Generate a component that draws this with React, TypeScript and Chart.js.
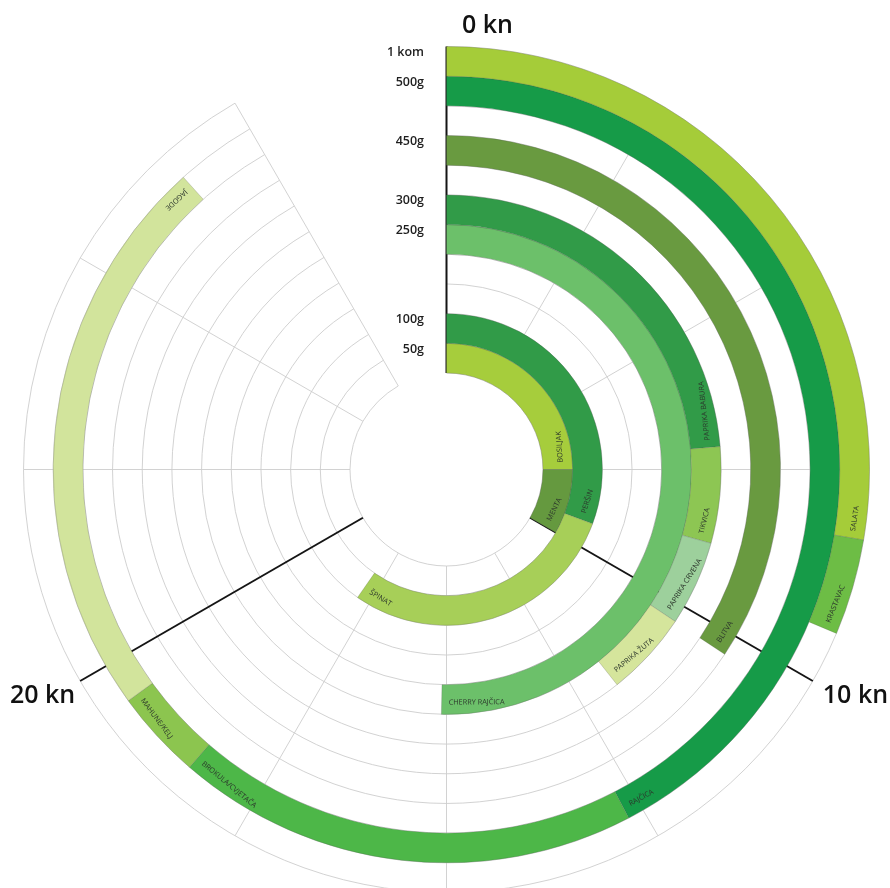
import React, { useEffect, useRef } from 'react';
import { Chart, registerables } from 'chart.js';

Chart.register(...registerables);

// ---- axis ----
const TOTAL_KN = 30; // full circle
const tickValues = [0, 10, 20];
const tickLabels = ['0 kn', '10 kn', '20 kn'];
const gridStepKn = 2.5;
const gridMaxKn = 27.5;

// ---- rings (inner -> outer) ----
const ringUnits = ['50g', '100g', '', '', '250g', '300g', '', '450g', '', '500g', '1 kom'];

// ---- products ----
const productNames = [
  'BOSILJAK', 'MENTA', 'PERŠIN', 'ŠPINAT', 'CHERRY RAJČICA', 'PAPRIKA BABURA', 'TIKVICA',
  'PAPRIKA CRVENA', 'PAPRIKA ŽUTA', 'BLITVA', 'RAJČICA', 'BROKULA/CVJETAČA', 'MAHUNE/KELJ',
  'JAGODE', 'SALATA', 'KRASTAVAC',
];
const productPrices = [7.5, 10.0, 9.2, 17.9, 15.1, 7.1, 8.8, 10.3, 11.8, 10.3, 12.7, 18.4, 19.5, 26.5, 8.3, 9.4];
const productRings = [0, 0, 1, 1, 4, 5, 5, 5, 5, 7, 9, 9, 9, 9, 10, 10];
const productColors = [
  '#a6cd3c', '#65993f', '#319b48', '#a7cf58', '#6cc06a', '#319b48', '#8dc653',
  '#9dd09c', '#d5e59c', '#699a40', '#169b48', '#4db748', '#8cc54f',
  '#d2e49c', '#a5cc39', '#6dbd45',
];

function buildDatasets() {
  const datasets: any[] = [];
  for (let r = ringUnits.length - 1; r >= 0; r--) {
    const idx = productNames
      .map((_, i) => i)
      .filter((i) => productRings[i] === r)
      .sort((a, b) => productPrices[a] - productPrices[b]);
    const data: number[] = [];
    const bg: string[] = [];
    const bw: number[] = [];
    let prev = 0;
    idx.forEach((i) => {
      data.push(productPrices[i] - prev);
      bg.push(productColors[i]);
      bw.push(0.6);
      prev = productPrices[i];
    });
    data.push(TOTAL_KN - prev);
    bg.push('rgba(0,0,0,0)');
    bw.push(0);
    datasets.push({
      data,
      backgroundColor: bg,
      borderWidth: bw,
      borderColor: 'rgba(70,70,70,0.35)',
      hoverOffset: 0,
      ringIndex: r,
      productIdx: idx,
    });
  }
  return datasets;
}

const START = -Math.PI / 2;
const toAngle = (kn: number) => START + (kn / TOTAL_KN) * Math.PI * 2;

function ringGeometry(chart: any) {
  const n = chart.data.datasets.length;
  const rings: any[] = [];
  for (let i = 0; i < n; i++) {
    const el = chart.getDatasetMeta(i).data[0];
    rings.push(el.getProps(['x', 'y', 'innerRadius', 'outerRadius'], true));
  }
  return rings;
}

const gridPlugin = {
  id: 'radialGrid',
  beforeDatasetsDraw(chart: any) {
    const ctx = chart.ctx;
    const rings = ringGeometry(chart);
    const cx = rings[0].x;
    const cy = rings[0].y;
    const outer = rings[0].outerRadius;
    const inner = rings[rings.length - 1].innerRadius;
    const radii = rings.map((r) => r.outerRadius).concat([inner]);
    ctx.save();
    ctx.strokeStyle = '#cdcdcd';
    ctx.lineWidth = 0.9;
    radii.forEach((r) => {
      ctx.beginPath();
      ctx.arc(cx, cy, r, toAngle(0), toAngle(gridMaxKn));
      ctx.stroke();
    });
    for (let kn = gridStepKn; kn <= gridMaxKn + 0.001; kn += gridStepKn) {
      if (tickValues.some((t) => Math.abs(t - kn) < 0.001)) continue;
      const a = toAngle(kn);
      ctx.beginPath();
      ctx.moveTo(cx + inner * Math.cos(a), cy + inner * Math.sin(a));
      ctx.lineTo(cx + outer * Math.cos(a), cy + outer * Math.sin(a));
      ctx.stroke();
    }
    ctx.strokeStyle = '#151515';
    ctx.lineWidth = 2;
    tickValues.forEach((kn) => {
      const a = toAngle(kn);
      ctx.beginPath();
      ctx.moveTo(cx + inner * Math.cos(a), cy + inner * Math.sin(a));
      ctx.lineTo(cx + outer * Math.cos(a), cy + outer * Math.sin(a));
      ctx.stroke();
    });
    ctx.restore();
  },
  afterDatasetsDraw(chart: any) {
    const ctx = chart.ctx;
    const rings = ringGeometry(chart);
    const cx = rings[0].x;
    const cy = rings[0].y;
    const outer = rings[0].outerRadius;
    ctx.save();
    // product labels
    ctx.fillStyle = '#2b352b';
    ctx.font = '7.3px "Open Sans"';
    ctx.textAlign = 'left';
    ctx.textBaseline = 'middle';
    chart.data.datasets.forEach((ds: any, di: number) => {
      const g = rings[di];
      const mid = (g.innerRadius + g.outerRadius) / 2 + 3;
      ds.productIdx.forEach((pi: number) => {
        const ang = toAngle(productPrices[pi]) - 7 / mid;
        const x = cx + mid * Math.cos(ang);
        const y = cy + mid * Math.sin(ang);
        ctx.save();
        ctx.translate(x, y);
        ctx.rotate(ang - Math.PI / 2);
        ctx.fillText(productNames[pi], 0, 0);
        ctx.restore();
      });
    });
    // ring unit labels
    ctx.fillStyle = '#1e1e1e';
    ctx.font = '600 12.5px "Open Sans"';
    ctx.textAlign = 'right';
    ctx.textBaseline = 'middle';
    chart.data.datasets.forEach((ds: any, di: number) => {
      const label = ringUnits[ds.ringIndex];
      if (!label) return;
      const g = rings[di];
      ctx.fillText(label, cx - 22.5, cy - g.outerRadius + 6);
    });
    // tick labels
    ctx.fillStyle = '#111';
    ctx.font = '600 25px "Open Sans"';
    ctx.textBaseline = 'alphabetic';
    tickValues.forEach((kn, i) => {
      const a = toAngle(kn);
      const x = cx + outer * Math.cos(a);
      const y = cy + outer * Math.sin(a);
      if (Math.abs(Math.cos(a)) < 0.01) {
        ctx.textAlign = 'left';
        ctx.fillText(tickLabels[i], x + 15.5, y - 13.5);
      } else if (Math.cos(a) > 0) {
        ctx.textAlign = 'left';
        ctx.fillText(tickLabels[i], x + 10, y + 22);
      } else {
        ctx.textAlign = 'right';
        ctx.fillText(tickLabels[i], x - 5, y + 22);
      }
    });
    ctx.restore();
  },
};

export default function App() {
  const ref = useRef<HTMLCanvasElement | null>(null);
  useEffect(() => {
    if (!ref.current) return;
    const chart = new Chart(ref.current, {
      type: 'doughnut',
      data: { datasets: buildDatasets() },
      options: {
        responsive: false,
        animation: false,
        events: [],
        radius: 423,
        cutout: (96.5 / 423) * 100 + '%',
        layout: { padding: { left: 3 } },
        plugins: { legend: { display: false }, tooltip: { enabled: false } },
      } as any,
      plugins: [gridPlugin],
    });
    return () => chart.destroy();
  }, []);
  return (
    <div
      style={{
        position: 'fixed',
        left: 0,
        top: 0,
        width: 890,
        height: 888,
        overflow: 'hidden',
        background: '#fff',
      }}
    >
      <canvas ref={ref} width={890} height={939} style={{ width: 890, height: 939, display: 'block' }} />
    </div>
  );
}
